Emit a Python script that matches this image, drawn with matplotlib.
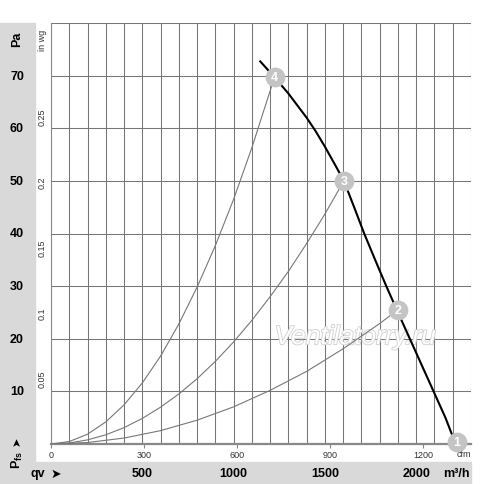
import matplotlib.pyplot as plt
import matplotlib.patheffects as pe
from matplotlib.patches import Rectangle

plt.rcParams['font.family'] = ['Liberation Sans', 'DejaVu Sans']

# fan curve, m3/h vs Pa
fan_q = [1146, 1224, 1300, 1400, 1450, 1500, 1550, 1604, 1660, 1715, 1775, 1836, 1900,
         1965, 2030, 2095, 2160, 2198]
fan_p = [72.7, 69.7, 66.6, 62.0, 59.4, 56.5, 53.4, 50.0, 45.0, 40.0, 35.0, 30.0, 25.0,
         20.0, 15.0, 10.0, 5.0, 1.6]

# system curves
sys4_q = [0, 100, 200, 300, 400, 500, 600, 700, 800, 900, 1000, 1100, 1224]
sys4_p = [0, 0.47, 1.86, 4.19, 7.44, 11.6, 16.7, 22.8, 29.8, 37.7, 46.5, 56.3, 69.7]
sys3_q = [0, 100, 200, 300, 400, 500, 600, 700, 800, 900, 1000, 1100, 1200, 1300, 1400, 1500, 1604]
sys3_p = [0, 0.19, 0.78, 1.75, 3.11, 4.86, 7.0, 9.5, 12.4, 15.7, 19.4, 23.5, 28.0, 32.8, 38.1, 43.7, 50.0]
sys2_q = [0, 200, 400, 600, 800, 1000, 1200, 1400, 1600, 1800, 1900]
sys2_p = [0, 0.28, 1.13, 2.54, 4.52, 7.06, 10.2, 13.8, 18.1, 22.9, 25.5]

# numbered operating points
pt_q = [2222, 1900, 1604, 1224]
pt_p = [0.3, 25.5, 50.0, 69.7]
pt_lbl = ['1', '2', '3', '4']

pa_ticks = [10, 20, 30, 40, 50, 60, 70]
inwg_ticks = [0.05, 0.1, 0.15, 0.2, 0.25]
cfm_ticks = [0, 300, 600, 900, 1200]
m3h_ticks = [500, 1000, 1500, 2000]

fig = plt.figure(figsize=(5.0, 4.85), dpi=100)
fig.patches.append(Rectangle((0, 0), 35 / 500, 461 / 485, transform=fig.transFigure,
                             color='#d9d9d9', zorder=-1))
fig.patches.append(Rectangle((0, 0), 471 / 500, 22 / 485, transform=fig.transFigure,
                             color='#d9d9d9', zorder=-1))

ax = fig.add_axes([51 / 500, 40 / 485, 420 / 500, 421 / 485])
ax.set_xlim(0, 2300)
ax.set_ylim(0, 80)

for q in range(100, 2400, 100):
    ax.axvline(q, color='#767676', lw=0.75, zorder=1)
for p in range(10, 90, 10):
    ax.axhline(p, color='#767676', lw=0.75, zorder=1)

for s in ['top', 'right']:
    ax.spines[s].set_visible(False)
ax.spines['left'].set_color('#888888')
ax.spines['left'].set_linewidth(0.8)
ax.spines['bottom'].set_color('#888888')
ax.spines['bottom'].set_linewidth(1.6)

ax.set_yticks([])
ax.set_xticks([c * 1.699 for c in cfm_ticks])
ax.set_xticklabels([str(c) for c in cfm_ticks], fontsize=6.5, color='#333333')
ax.tick_params(axis='x', length=3, width=0.8, color='#888888', pad=1.5)
ax.text(2262, -1.0, 'cfm', fontsize=6.5, color='#333333', ha='center', va='top')

ax.plot(sys4_q, sys4_p, color='#777777', lw=0.8, zorder=3)
ax.plot(sys3_q, sys3_p, color='#777777', lw=0.8, zorder=3)
ax.plot(sys2_q, sys2_p, color='#777777', lw=0.8, zorder=3)
ax.plot(fan_q, fan_p, color='black', lw=1.5, zorder=4)

ax.scatter(pt_q, pt_p, s=175, color='#c4c4c4', zorder=5, clip_on=False)
for q, p, t in zip(pt_q, pt_p, pt_lbl):
    ax.text(q, p, t, color='white', fontsize=9, fontweight='bold',
            ha='center', va='center', zorder=6, clip_on=False)

ax.text(1665, 20.3, 'Ventilatorry.ru', fontsize=19, style='italic', color='white',
        ha='center', va='center', zorder=2,
        path_effects=[pe.withStroke(linewidth=1.3, foreground='#d2d2d2')])

ytr = ax.get_yaxis_transform()
for p in pa_ticks:
    ax.text(-0.081, p, str(p), transform=ytr, fontsize=9, fontweight='bold',
            ha='center', va='center')
ax.text(-0.081, 77.1, 'Pa', transform=ytr, fontsize=9, fontweight='bold',
        rotation=90, ha='center', va='center')
for v in inwg_ticks:
    ax.text(-0.021, v * 249.09, str(v), transform=ytr, fontsize=6.5, color='#333333',
            rotation=90, ha='center', va='center')
ax.text(-0.021, 76.8, 'in wg', transform=ytr, fontsize=6.5, color='#333333',
        rotation=90, ha='center', va='center')
ax.text(-0.081, 0.75, '➤', transform=ytr, fontsize=8, rotation=90,
        ha='center', va='center', family=['DejaVu Sans'])
ax.text(-0.081, -1.2, r'P$_{\mathregular{fs}}$', transform=ytr, fontsize=9,
        fontweight='bold', rotation=90, ha='center', va='top')

xtr = ax.get_xaxis_transform()
for m in m3h_ticks:
    ax.text(m, -0.069, str(m), transform=xtr, fontsize=9, fontweight='bold',
            ha='center', va='center')
ax.text(2220, -0.069, 'm³/h', transform=xtr, fontsize=9, fontweight='bold',
        ha='center', va='center')
ax.text(-70, -0.069, 'qv', transform=xtr, fontsize=9, fontweight='bold',
        ha='center', va='center')
ax.text(28, -0.069, '➤', transform=xtr, fontsize=9,
        ha='center', va='center', family=['DejaVu Sans'])

fig.savefig('out.png', dpi=100)
